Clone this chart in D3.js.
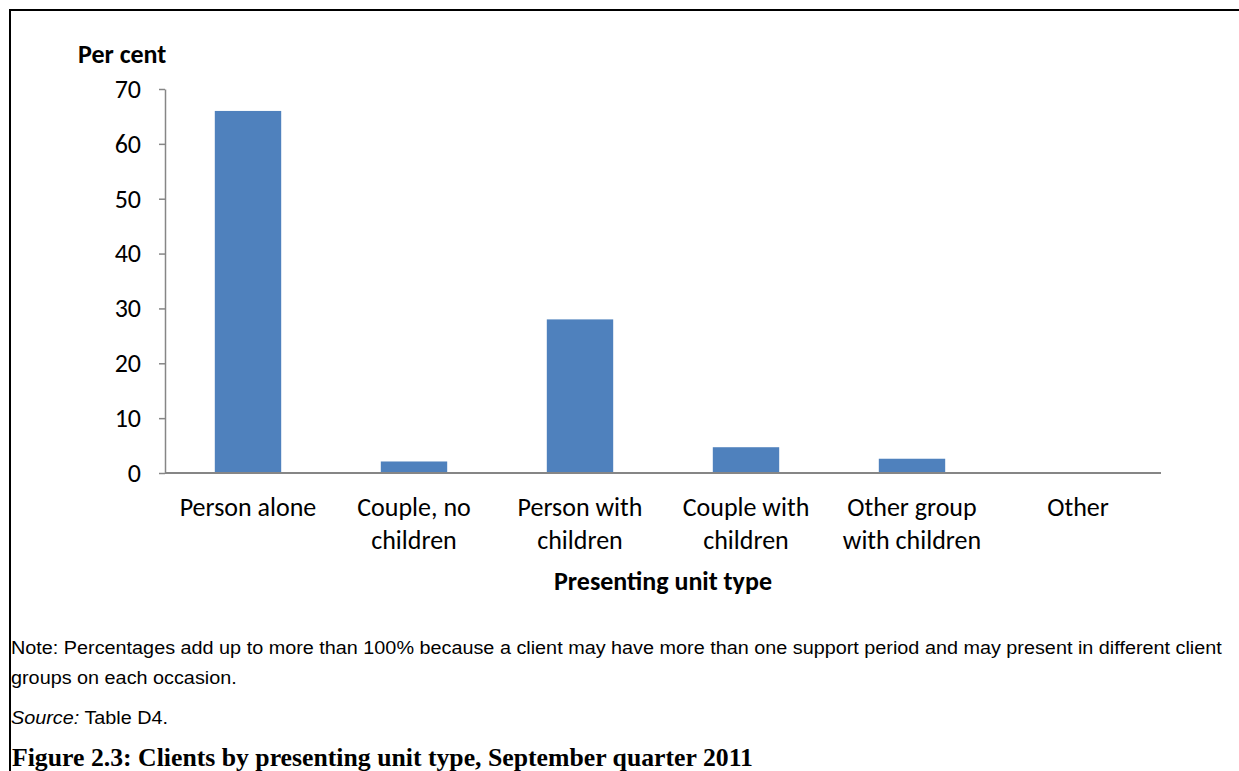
<!DOCTYPE html>
<html>
<head>
<meta charset="utf-8">
<script src="https://cdn.jsdelivr.net/npm/d3@7"></script>
<style>
  html, body { margin: 0; padding: 0; background: #fff; }
  svg { display: block; }
</style>
</head>
<body>
<svg id="chart" width="1239" height="771"></svg>
<script>
// Presenting unit types and the share of clients in each (per cent)
const categories = [
  ["Person alone"],
  ["Couple, no", "children"],
  ["Person with", "children"],
  ["Couple with", "children"],
  ["Other group", "with children"],
  ["Other"]
];
const values = [66.0, 2.1, 28.0, 4.7, 2.6, 0.1];
const yTicks = [0, 10, 20, 30, 40, 50, 60, 70];

const svg = d3.select("#chart");
const labelFont = "Carlito, Lato, 'Open Sans', sans-serif";

// Outer frame
svg.append("path")
  .attr("d", "M10,780 L10,10 L1250,10")
  .attr("fill", "none")
  .attr("stroke", "#000")
  .attr("stroke-width", 2);

const plot = { left: 165, right: 1161, top: 89, bottom: 473 };

const x = d3.scaleBand()
  .domain(d3.range(categories.length))
  .range([plot.left, plot.right])
  .paddingInner(0.6)
  .paddingOuter(0.3);

const y = d3.scaleLinear()
  .domain([0, 70])
  .range([plot.bottom, plot.top]);

// Bars
svg.append("g")
  .selectAll("rect")
  .data(values)
  .join("rect")
  .attr("x", (d, i) => x(i))
  .attr("width", x.bandwidth())
  .attr("y", d => y(d))
  .attr("height", d => y(0) - y(d))
  .attr("fill", "#4F81BD");

// Y axis
const yAxis = svg.append("g")
  .attr("transform", `translate(${plot.left},0)`)
  .call(d3.axisLeft(y).tickValues(yTicks).tickSize(6).tickSizeOuter(0).tickPadding(18));
yAxis.select(".domain").attr("stroke", "#868686").attr("stroke-width", 1.5);
yAxis.selectAll(".tick line").attr("stroke", "#868686").attr("stroke-width", 1.5);
yAxis.selectAll(".tick text")
  .attr("font-family", labelFont)
  .attr("font-size", 26)
  .attr("fill", "#000");

// X axis baseline
svg.append("line")
  .attr("x1", plot.left).attr("x2", plot.right)
  .attr("y1", y(0)).attr("y2", y(0))
  .attr("stroke", "#868686")
  .attr("stroke-width", 2);

// Category labels (two lines where wrapped)
const catG = svg.append("g");
categories.forEach((lines, i) => {
  const t = catG.append("text")
    .attr("x", x(i) + x.bandwidth() / 2)
    .attr("y", 516)
    .attr("text-anchor", "middle")
    .attr("font-family", labelFont)
    .attr("font-size", 26)
    .attr("fill", "#000");
  lines.forEach((ln, j) => {
    t.append("tspan")
      .attr("x", x(i) + x.bandwidth() / 2)
      .attr("dy", j === 0 ? 0 : 33)
      .text(ln);
  });
});

// Axis titles
svg.append("text")
  .attr("x", 78).attr("y", 63)
  .attr("font-family", labelFont)
  .attr("font-size", 26)
  .attr("font-weight", "bold")
  .text("Per cent");

svg.append("text")
  .attr("x", 663).attr("y", 590)
  .attr("text-anchor", "middle")
  .attr("font-family", labelFont)
  .attr("font-size", 26)
  .attr("font-weight", "bold")
  .text("Presenting unit type");

// Notes, set in a condensed sans
const noteFont = "'Liberation Sans', Arial, sans-serif";
const noteG = svg.append("g");
const note1 = noteG.append("text")
  .attr("y", 654)
  .text("Note: Percentages add up to more than 100% because a client may have more than one support period and may present in different client");
const note2 = noteG.append("text")
  .attr("y", 684)
  .text("groups on each occasion.");
const src = noteG.append("text").attr("y", 724);
src.append("tspan").attr("font-style", "italic").text("Source:");
src.append("tspan").text(" Table D4.");
noteG.selectAll("text")
  .attr("x", 0)
  .attr("font-family", noteFont)
  .attr("font-size", 17.5)
  .attr("fill", "#000");
const squeeze = 1211 / note1.node().getComputedTextLength();
noteG.attr("transform", `translate(11,0) scale(${squeeze},1)`);

// Figure caption
svg.append("text")
  .attr("x", 12).attr("y", 766)
  .attr("font-family", "'Liberation Serif', 'DejaVu Serif', serif")
  .attr("font-size", 25)
  .attr("font-weight", "bold")
  .attr("textLength", 741).attr("lengthAdjust", "spacingAndGlyphs")
  .text("Figure 2.3: Clients by presenting unit type, September quarter 2011");
</script>
</body>
</html>
